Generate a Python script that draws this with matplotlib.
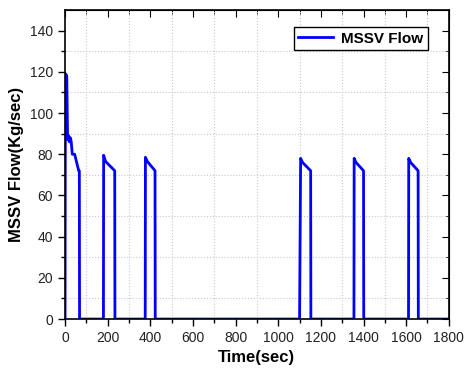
import matplotlib
matplotlib.use("Agg")
import matplotlib.pyplot as plt
from matplotlib.ticker import MultipleLocator, FixedLocator

plt.rcParams['font.family'] = ['Liberation Sans', 'DejaVu Sans']

# MSSV flow history
time_s = [0, 1, 3, 8, 12, 17, 21, 25, 29, 34, 45, 64, 67, 68,
          180, 181, 190, 233, 234,
          376, 377, 386, 422, 423,
          1100, 1105, 1114, 1152, 1153,
          1355, 1356, 1365, 1400, 1401,
          1611, 1612, 1621, 1656, 1657, 1800]
flow = [0, 80, 119, 118, 87, 89, 86, 88, 86, 80, 80, 72, 72, 0,
        0, 79.5, 76.5, 72, 0,
        0, 78.5, 76.5, 72, 0,
        0, 78, 76, 72, 0,
        0, 78, 76, 72, 0,
        0, 78, 76, 72, 0, 0]

fig = plt.figure(figsize=(4.68, 3.71), dpi=100)
ax = fig.add_axes([0.139, 0.140, 0.820, 0.833])

ax.plot(time_s, flow, color='#0000ff', lw=2, label='MSSV Flow')

ax.set_xlim(0, 1800)
ax.set_ylim(0, 150)
ax.xaxis.set_major_locator(MultipleLocator(200))
ax.xaxis.set_minor_locator(FixedLocator(range(100, 1800, 200)))
ax.set_yticks(range(0, 141, 20))
ax.yaxis.set_minor_locator(FixedLocator(range(10, 150, 20)))

ax.grid(which='minor', color='#c8c8c8', linestyle=':', linewidth=0.8)
ax.grid(which='major', visible=False)

ax.tick_params(which='both', direction='out', labelsize=10, width=1,
               labelcolor='#222222')
ax.tick_params(which='major', length=5)
ax.tick_params(which='minor', length=3)

# mirrored ticks pointing inward on top/right
top = ax.secondary_xaxis('top')
top.set_xticks(range(0, 1801, 200))
top.xaxis.set_minor_locator(FixedLocator(range(100, 1800, 200)))
top.tick_params(which='both', direction='in', labeltop=False)
top.tick_params(which='major', length=5)
top.tick_params(which='minor', length=3)
right = ax.secondary_yaxis('right')
right.set_yticks(range(0, 141, 20))
right.yaxis.set_minor_locator(FixedLocator(range(10, 150, 20)))
right.tick_params(which='both', direction='in', labelright=False)
right.tick_params(which='major', length=5)
right.tick_params(which='minor', length=3)

for sp in ax.spines.values():
    sp.set_linewidth(1.2)

ax.set_xlabel('Time(sec)', fontsize=12, fontweight='bold')
ax.set_ylabel('MSSV Flow(Kg/sec)', fontsize=12, fontweight='bold')

leg = ax.legend(loc='upper right', bbox_to_anchor=(0.945, 0.945), fancybox=False,
                edgecolor='black', framealpha=1, prop={'weight': 'bold', 'size': 11},
                handlelength=2.3, borderpad=0.3, borderaxespad=0, handletextpad=0.5)
leg.get_frame().set_linewidth(1)

fig.savefig('out.png', dpi=100)
